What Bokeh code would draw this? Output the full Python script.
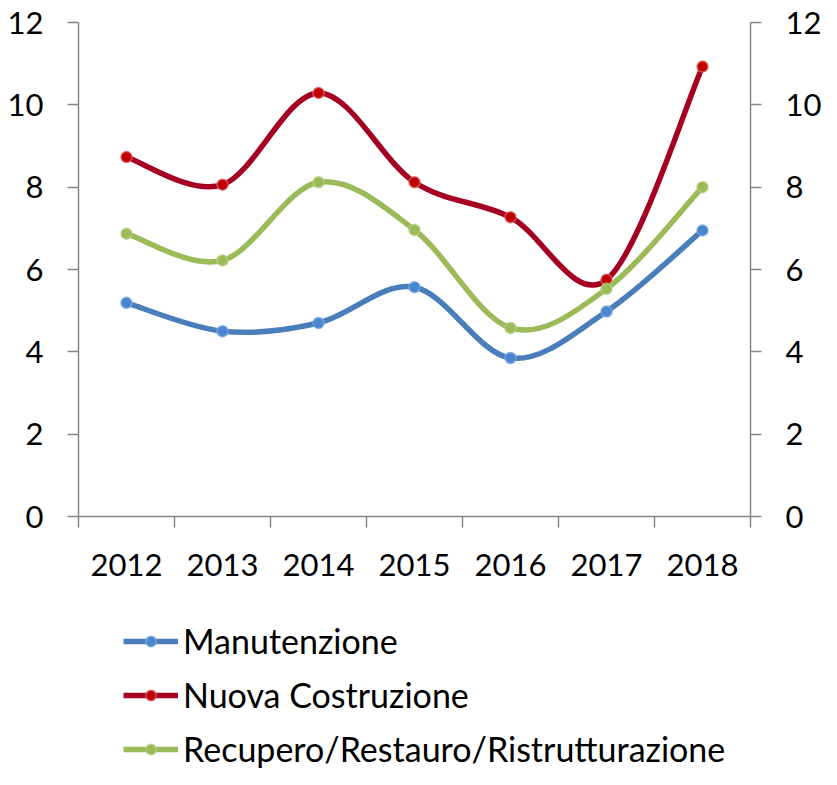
from bokeh.plotting import figure
from bokeh.layouts import column
from bokeh.models import LinearAxis, FixedTicker, Legend, LegendItem
from bokeh.embed import file_html
from bokeh.resources import INLINE

# ---- data ----
years = ["2012", "2013", "2014", "2015", "2016", "2017", "2018"]
manutenzione = [5.19, 4.50, 4.70, 5.57, 3.85, 4.98, 6.95]
nuova_costruzione = [8.73, 8.06, 10.29, 8.12, 7.27, 5.75, 10.93]
recupero = [6.87, 6.22, 8.12, 6.96, 4.58, 5.53, 8.00]
y_ticks = [0, 2, 4, 6, 8, 10, 12]
series_names = ["Manutenzione", "Nuova Costruzione", "Recupero/Restauro/Ristrutturazione"]

FONT = "Lato"
AXIS_COLOR = "#868686"
GRID_COLOR = "#d9d9d9"

xs = [i + 0.5 for i in range(len(years))]


def smooth(x, y):
    """Bezier segments through the points (Catmull-Rom style, like a smoothed line)."""
    n = len(x)
    out = {k: [] for k in ["x0", "y0", "x1", "y1", "cx0", "cy0", "cx1", "cy1"]}
    for i in range(n - 1):
        a = max(i - 1, 0)
        b = min(i + 2, n - 1)
        out["x0"].append(x[i]); out["y0"].append(y[i])
        out["x1"].append(x[i + 1]); out["y1"].append(y[i + 1])
        out["cx0"].append(x[i] + (x[i + 1] - x[a]) / 6.0)
        out["cy0"].append(y[i] + (y[i + 1] - y[a]) / 6.0)
        out["cx1"].append(x[i + 1] - (x[b] - x[i]) / 6.0)
        out["cy1"].append(y[i + 1] - (y[b] - y[i]) / 6.0)
    return out


W, H = 821, 769
LEFT, TOP, FW, FH, BOTTOM = 78, 22, 672, 494, 84
H1 = TOP + FH + BOTTOM
H2 = H - H1

p = figure(frame_width=FW, frame_height=FH, x_range=(0, len(years)), y_range=(0, 12),
           min_border_left=LEFT, min_border_top=TOP, min_border_right=W - LEFT - FW,
           min_border_bottom=BOTTOM,
           output_backend="svg", toolbar_location=None, x_axis_type=None, y_axis_type=None)
p.outline_line_color = None
p.background_fill_color = "white"
p.border_fill_color = "white"

# axes
xaxis = LinearAxis(ticker=FixedTicker(ticks=xs, minor_ticks=list(range(len(years) + 1))))
xaxis.major_label_overrides = {x: yr for x, yr in zip(xs, years)}
xaxis.major_tick_out = 0
xaxis.major_tick_in = 0
xaxis.minor_tick_out = 11
xaxis.minor_tick_in = 0
xaxis.minor_tick_line_color = AXIS_COLOR
xaxis.minor_tick_line_width = 1.5
xaxis.axis_line_color = AXIS_COLOR
xaxis.axis_line_width = 1.5
xaxis.major_label_text_font = FONT
xaxis.major_label_text_font_size = "31px"
xaxis.major_label_text_color = "black"
xaxis.major_label_standoff = 26
p.add_layout(xaxis, "below")

for side in ["left", "right"]:
    ax = LinearAxis(ticker=FixedTicker(ticks=y_ticks, minor_ticks=[]))
    ax.major_tick_out = 11
    ax.major_tick_in = 0
    ax.major_tick_line_color = AXIS_COLOR
    ax.major_tick_line_width = 1.5
    ax.axis_line_color = AXIS_COLOR
    ax.axis_line_width = 1.5
    ax.major_label_text_font = FONT
    ax.major_label_text_font_size = "31px"
    ax.major_label_text_color = "black"
    ax.major_label_standoff = 24
    p.add_layout(ax, side)

p.ygrid.grid_line_color = GRID_COLOR
p.ygrid.grid_line_width = 1.5
p.ygrid.ticker = FixedTicker(ticks=y_ticks)
p.xgrid.grid_line_color = None

styles = [
    (manutenzione, "#4a7ebb", "#4a86d0", "#7aa6e0"),
    (nuova_costruzione, "#a50021", "#c00000", "#e06060"),
    (recupero, "#9bbb59", "#9bbb59", "#b5cf80"),
]

# legend figure (below the chart); its ranges keep the proxy renderers out of view
p2 = figure(width=W, height=H2, x_range=(100, 101), y_range=(100, 101), min_border=0,
            output_backend="svg", toolbar_location=None, x_axis_type=None, y_axis_type=None)
p2.outline_line_color = None
p2.grid.grid_line_color = None
p2.background_fill_color = "white"
p2.border_fill_color = "white"

items = []
for name, (vals, lc, mfill, mline) in zip(series_names, styles):
    seg = smooth(xs, vals)
    p.bezier(x0=seg["x0"], y0=seg["y0"], x1=seg["x1"], y1=seg["y1"],
             cx0=seg["cx0"], cy0=seg["cy0"], cx1=seg["cx1"], cy1=seg["cy1"],
             line_color=lc, line_width=5.5)
    p.scatter(xs, vals, size=11, fill_color=mfill, line_color=mline,
              line_alpha=0.8, line_width=1.5)
    # legend proxies (same data, outside p2's visible ranges)
    lr = p2.line(xs, vals, line_color=lc, line_width=5.5)
    sr = p2.scatter(xs, vals, fill_color=mfill, line_color=mline,
                    line_alpha=0.8, line_width=1.5)
    items.append(LegendItem(label=name, renderers=[lr, sr]))

LEG_ITEM_H, LEG_SPACING = 41, 13
leg_h = 3 * LEG_ITEM_H + 2 * LEG_SPACING
legend = Legend(items=items, location=(45, H2 - 20 - leg_h), orientation="vertical",
                glyph_width=55, glyph_height=26, label_height=LEG_ITEM_H, spacing=LEG_SPACING,
                label_standoff=5, padding=0, margin=0,
                label_text_font=FONT, label_text_font_size="34px",
                label_text_color="black",
                border_line_color=None, background_fill_alpha=0)
p2.add_layout(legend, "center")

layout = column(p, p2, spacing=0)
open("out.html", "w").write(file_html(layout, INLINE))
